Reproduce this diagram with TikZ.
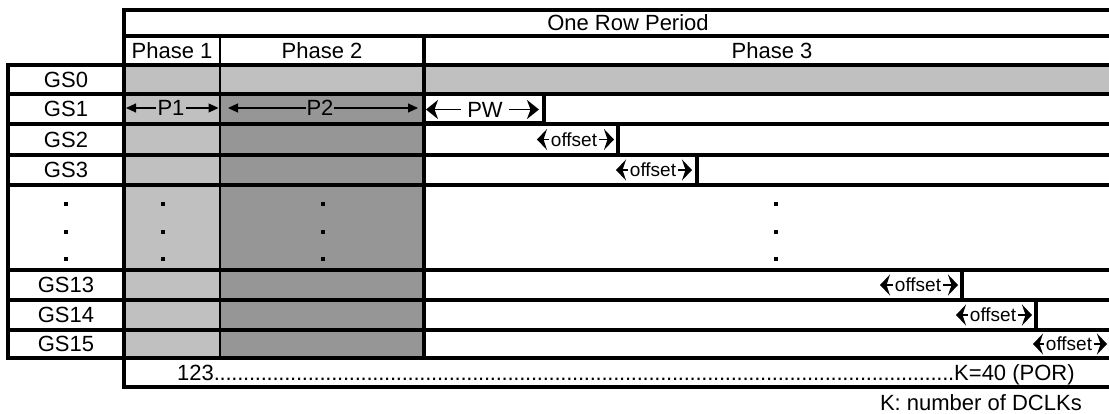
\documentclass[tikz,border=0pt]{standalone}
\usepackage{fontspec}
\setmainfont{Liberation Sans}
\usetikzlibrary{arrows.meta}
\definecolor{lightg}{HTML}{C0C0C0}
\definecolor{darkg}{HTML}{969696}
\begin{document}
\begin{tikzpicture}[x=1pt,y=-1pt,
  gridline/.style={line width=3.3pt},
  thingrid/.style={line width=2.2pt},
  pbox/.style={line width=4.3pt},
  lbl/.style={font=\fontsize{22}{24}\selectfont, inner sep=0pt},
  olbl/.style={font=\fontsize{19}{20}\selectfont, inner xsep=1.5pt, inner ysep=0pt},
  dimarrow/.style={line width=1.1pt, -{Triangle[length=10pt,width=9pt]}},
  bigarrow/.style={line width=1.6pt, -{Stealth[length=12pt,width=19pt,inset=3.5pt]}},
  offarrow/.style={line width=1.8pt, -{Stealth[length=10pt,width=21pt,inset=3.5pt]}},
  dotmark/.style={fill=black, minimum size=3.2pt, inner sep=0pt}
]
\useasboundingbox (0,0) rectangle (1109,414);
% fills
\fill[lightg] (124,65) rectangle (1112,94);
\fill[lightg] (124,94) rectangle (220,358);
\fill[darkg] (220,94) rectangle (424,358);
% header
\draw[gridline] (124,10) -- (1112,10);
\draw[gridline] (124,36) -- (1112,36);
\draw[gridline] (124,8.4) -- (124,388.6);
\draw[thingrid] (220,36) -- (220,358);
\draw[gridline] (424,36) -- (424,358);
% rows
\draw[gridline] (6.4,65) -- (1112,65);
\foreach \yy in {94,124,155,185,270,300,330}
  \draw[gridline] (6.4,\yy) -- (1112,\yy);
\draw[gridline] (6.4,358) -- (1112,358);
\draw[gridline] (124,387) -- (1112,387);
\draw[gridline] (8,63.4) -- (8,359.6);
% phase 3 boxes
\draw[pbox] (424,94) rectangle (544,123);
\draw[pbox] (424,124) rectangle (618,155);
\draw[pbox] (424,155) rectangle (697,185);
\draw[pbox] (424,270) rectangle (962,300);
\draw[pbox] (424,300) rectangle (1036,330);
\draw[pbox] (424,330) rectangle (1115,358);
% header texts
\node[lbl] (orp) at (628,23) {One Row Period};
\node[lbl] (ph1) at (172,50.5) {Phase 1};
\node[lbl] (ph2) at (322,50.5) {Phase 2};
\node[lbl] (ph3) at (772,50.5) {Phase 3};
% row labels
\node[lbl] (gs0) at (66,79.5) {GS0};
\node[lbl] (gs1) at (66,109) {GS1};
\node[lbl] (gs2) at (66,139.5) {GS2};
\node[lbl] (gs3) at (66,170) {GS3};
\node[lbl] (gs13) at (66,285) {GS13};
\node[lbl] (gs14) at (66,315) {GS14};
\node[lbl] (gs15) at (66,344) {GS15};
% dots
\foreach \xx/\nm in {66/a,163/b,323/c,776/d}
  \foreach \yy/\mm in {204/1,232/2,259/3}
    \node[dotmark] (dot\nm\mm) at (\xx,\yy) {};
% P1, P2
\node[lbl, inner xsep=1pt] (p1) at (171,108) {P1};
\coordinate (p1l) at (126,108);
\coordinate (p1r) at (218.5,108);
\draw[dimarrow] (p1) -- (p1l);
\draw[dimarrow] (p1) -- (p1r);
\node[lbl, inner xsep=0pt] (p2) at (320,108) {P2};
\coordinate (p2l) at (228,108);
\coordinate (p2r) at (418,108);
\draw[dimarrow] (p2) -- (p2l);
\draw[dimarrow] (p2) -- (p2r);
% PW
\node[lbl, inner xsep=6pt] (pw) at (485,109.5) {PW};
\coordinate (pwl) at (426,109.5);
\coordinate (pwr) at (539,109.5);
\draw[bigarrow] (pw) -- (pwl);
\draw[bigarrow] (pw) -- (pwr);
% offsets
\foreach \nm/\yy/\la/\cc/\rb in {o2/139.5/537/574/614, o3/170/616/653/692, o13/285/880/918/958, o14/315/956/993/1032, o15/344/1033/1069/1107}{
  \node[olbl] (\nm) at (\cc,\yy) {offset};
  \coordinate (\nm l) at (\la,\yy);
  \coordinate (\nm r) at (\rb,\yy);
  \draw[offarrow] (\nm) -- (\nm l);
  \draw[offarrow] (\nm) -- (\nm r);
}
% bottom row
\node[lbl, anchor=base west] (bot) at (177,380) {\hbox to 897pt{123\xleaders\hbox to 5.84pt{\hss.\hss}\hfill K=40 (POR)}};
\node[lbl, anchor=base east] (note) at (1082,410) {K: number of DCLKs};
\end{tikzpicture}
\end{document}
